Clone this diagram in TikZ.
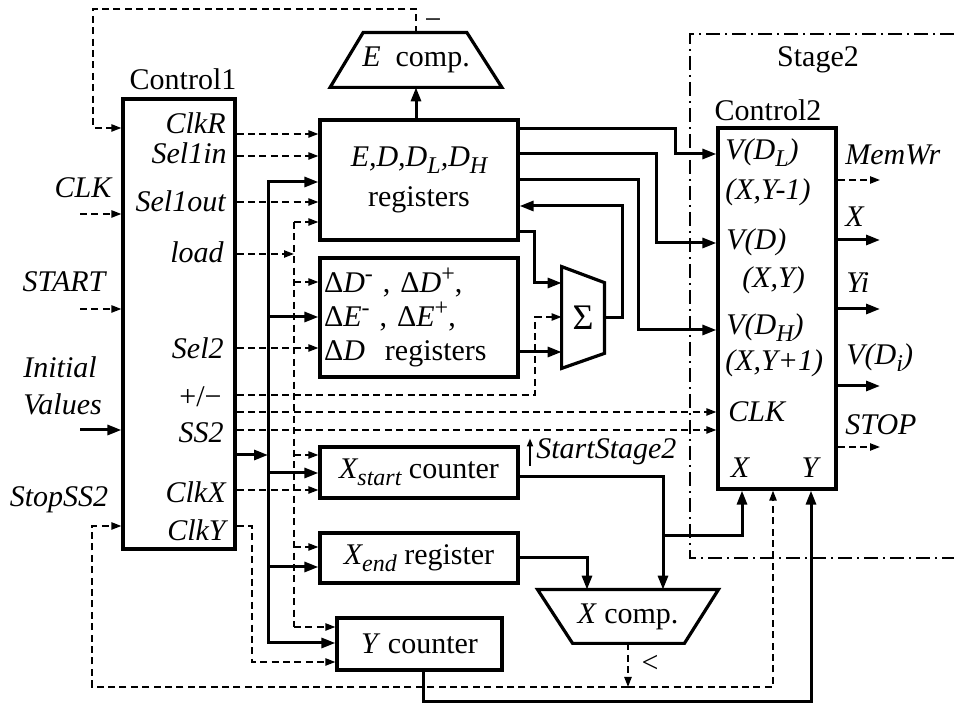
\documentclass[tikz,border=0pt]{standalone}
\usepackage{fontspec}
\setmainfont{Liberation Serif}
\usetikzlibrary{positioning, arrows.meta, calc}
\newcommand{\subtx}[1]{\raisebox{-0.5ex}{\fontsize{12}{12}\selectfont #1}}
\newcommand{\suptx}[1]{\raisebox{0.8ex}{\fontsize{12}{12}\selectfont #1}}
\tikzset{
  blk/.style={draw, line width=1.6pt, inner sep=0pt},
  shp/.style={line width=1.6pt},
  sig/.style={inner sep=0pt, font=\itshape},
  txt/.style={inner sep=0pt},
  bus/.style={line width=1.5pt, -{Triangle[length=7pt,width=5pt]}},
  ctl/.style={line width=0.9pt, dash pattern=on 3.5pt off 2.2pt,
              -{Triangle[length=5pt,width=3.6pt]}},
  ctlw/.style={line width=0.9pt, dash pattern=on 3.5pt off 2.2pt},
  zone/.style={line width=0.9pt, dash pattern=on 7pt off 2.5pt on 1pt off 2.5pt}
}

\begin{document}
\fontsize{15}{17}\selectfont
\begin{tikzpicture}[x=0.5pt, y=-0.5pt]
  \useasboundingbox (0,0) rectangle (954,704);

  % ----- Blocks -----
  \node[blk, minimum width=56pt, minimum height=225pt] (ctrlA) at (179,324) {};
  \node[txt] (ctrlAname) at (183,79) {Control1};

  \node[blk, minimum width=99pt, minimum height=60pt, align=center] (reg) at (419,180)
    {\textit{E,D,D\subtx{L},D\subtx{H}}\\[3pt]registers};

  \node[blk, minimum width=99pt, minimum height=59.5pt, text width=95pt, align=left] (dreg) at (419,317.5)
    {Δ\textit{D}\suptx{-}\ , Δ\textit{D}\suptx{+},\\Δ\textit{E}\suptx{-}\ , Δ\textit{E}\suptx{+},\\Δ\textit{D}\ \ registers};

  \node[blk, minimum width=99pt, minimum height=25.5pt] (xst) at (419,472.5)
    {\textit{X\subtx{start}} counter};
  \node[blk, minimum width=99pt, minimum height=25pt] (xend) at (419,558)
    {\textit{X\subtx{end}} register};
  \node[blk, minimum width=82.5pt, minimum height=26pt] (ycnt) at (419.5,644)
    {\textit{Y} counter};

  \node[blk, minimum width=59pt, minimum height=180.5pt] (ctrlB) at (777,308.5) {};
  \node[txt] (ctrlBname) at (768,110) {Control2};
  \node[txt] (stage) at (818,60) {Stage2};

  % ----- Trapezoid units -----
  \node[txt, minimum width=85.5pt, minimum height=27pt] (ecomp) at (416,60) {\textit{E}\ \ comp.};
  \draw[shp] ([xshift=16.5pt]ecomp.north west) -- ([xshift=-17.5pt]ecomp.north east)
    -- (ecomp.south east) -- (ecomp.south west) -- cycle;

  \node[txt, minimum width=90pt, minimum height=26.5pt] (xcomp) at (628,616.5) {\textit{X} comp.};
  \draw[shp] (xcomp.north west) -- (xcomp.north east) -- ([xshift=-17pt]xcomp.south east)
    -- ([xshift=17.5pt]xcomp.south west) -- cycle;

  \node[txt, minimum width=21pt, minimum height=50.5pt, font=\fontsize{18}{18}\selectfont] (sigma) at (583,317.5) {Σ};
  \draw[shp] (sigma.north west) -- ([yshift=-8pt]sigma.north east)
    -- ([yshift=7.5pt]sigma.south east) -- (sigma.south west) -- cycle;

  % ----- Control1 pin labels -----
  \node[sig, anchor=east] (pClkR) at (226,123) {ClkR};
  \node[sig, anchor=east] (pSelIin) at (227,153) {Sel1in};
  \node[sig, anchor=east] (pSelIout) at (226,201) {Sel1out};
  \node[sig, anchor=east] (pload) at (224,252) {load};
  \node[sig, anchor=east] (pSelII) at (224,348) {Sel2};
  \node[txt, anchor=east] (ppm) at (222,397) {+/−};
  \node[sig, anchor=east] (pSS) at (224,433) {SS2};
  \node[sig, anchor=east] (pClkX) at (226,492) {ClkX};
  \node[sig, anchor=east] (pClkY) at (226,530) {ClkY};

  % ----- Control2 pin labels -----
  \node[sig, anchor=west] (qvdl) at (725,153) {V(D\subtx{L})};
  \node[sig, anchor=west] (qxym) at (725,192) {(X,Y-1)};
  \node[sig, anchor=west] (qvd) at (726,242) {V(D)};
  \node[sig, anchor=west] (qxy) at (742,280) {(X,Y)};
  \node[sig, anchor=west] (qvdh) at (726,328) {V(D\subtx{H})};
  \node[sig, anchor=west] (qxyp) at (725,363) {(X,Y+1)};
  \node[sig, anchor=west] (qclk) at (728,412) {CLK};
  \node[sig] (qx) at (740,468) {X};
  \node[sig] (qy) at (810,468) {Y};

  % ----- Outside labels -----
  \node[sig] (lclk) at (83,188) {CLK};
  \node[sig] (lstart) at (64,282) {START};
  \node[sig, anchor=west, align=left] (linit) at (23,386) {Initial\\[1.5pt]Values};
  \node[sig] (lstop) at (59,500) {StopSS2};
  \node[sig, anchor=west] (omemwr) at (845,155) {MemWr};
  \node[sig, anchor=west] (ox) at (845,217) {X};
  \node[sig, anchor=west] (oyi) at (846,283) {Yi};
  \node[sig, anchor=west] (ovd) at (846,358) {V(D\subtx{i})};
  \node[sig, anchor=west] (ostop) at (845,425) {STOP};
  \node[sig, anchor=west] (lstst) at (536,452) {StartStage2};
  \node[txt] (minus) at (433,24) {−};
  \node[txt] (lless) at (650,664) {<};

  % ----- Free ends and junctions -----
  \coordinate (iclk) at (80,214);
  \coordinate (istart) at (80,309);
  \coordinate (iinit) at (80,430);
  \coordinate (fbk) at (93,9);
  \coordinate (ldtop) at (294,222);
  \coordinate (ldbot) at (294,627);
  \coordinate (bustop) at (268,182);
  \coordinate (busbot) at (268,643);
  \coordinate (emem) at (880,180);
  \coordinate (ex) at (880,240);
  \coordinate (eyi) at (880,309);
  \coordinate (evd) at (880,386);
  \coordinate (estop) at (880,447);

  % ----- Control1 inputs -----
  \draw[ctl] (ecomp.north) |- (fbk) -- (fbk |- 0,128) -- (ctrlA.west |- 0,128);
  \draw[ctl] (iclk) -- (ctrlA.west |- iclk);
  \draw[ctl] (istart) -- (ctrlA.west |- istart);
  \draw[bus] (iinit) -- (ctrlA.west |- iinit);

  % ----- Control1 outputs -----
  \draw[ctl] (ctrlA.east |- 0,134) -- (reg.west |- 0,134);
  \draw[ctl] (ctrlA.east |- 0,156) -- (reg.west |- 0,156);
  \draw[ctl] (ctrlA.east |- 0,202) -- (reg.west |- 0,202);
  \draw[ctl] (ctrlA.east |- 0,254) -- (ldtop |- 0,254);
  \draw[ctl] (ctrlA.east |- 0,348) -- (dreg.west |- 0,348);
  \draw[ctl] (ctrlA.east |- 0,395) -| (535,317) -- (sigma.west |- 0,317);
  \draw[ctl] (ctrlA.east |- 0,412) -- (ctrlB.west |- 0,412);
  \draw[ctl] (ctrlA.east |- 0,430) -- (ctrlB.west |- 0,430);
  \draw[bus] (ctrlA.east |- 0,455) -- (bustop |- 0,455);
  \draw[ctl] (ctrlA.east |- 0,490) -- (xst.west |- 0,490);
  \draw[ctl] (ctrlA.east |- 0,526) -| (252,662) -- (ycnt.west |- 0,662);

  % ----- load line -----
  \draw[ctlw] (ldtop) -- (ldbot);
  \draw[ctl] (ldtop) -- (reg.west |- ldtop);
  \draw[ctl] (ldtop |- 0,282) -- (dreg.west |- 0,282);
  \draw[ctl] (ldtop |- 0,455) -- (xst.west |- 0,455);
  \draw[ctl] (ldtop |- 0,547) -- (xend.west |- 0,547);
  \draw[ctl] (ldbot) -- (ycnt.west |- ldbot);

  % ----- Initial values bus -----
  \draw[bus] (busbot) -- (bustop) -- (reg.west |- bustop);
  \draw[bus] (bustop |- 0,317) -- (dreg.west |- 0,317);
  \draw[bus] (bustop |- 0,473) -- (xst.west |- 0,473);
  \draw[bus] (bustop |- 0,567) -- (xend.west |- 0,567);
  \draw[bus] (bustop) -- (busbot) -- (ycnt.west |- busbot);

  % ----- Registers and adder -----
  \draw[bus] (reg.north -| ecomp.south) -- (ecomp.south);
  \draw[bus] (reg.east |- 0,129) -| (675,154) -- (ctrlB.west |- 0,154);
  \draw[bus] (reg.east |- 0,154) -| (656,243) -- (ctrlB.west |- 0,243);
  \draw[bus] (reg.east |- 0,180) -| (638,330) -- (ctrlB.west |- 0,330);
  \draw[bus] (reg.east |- 0,232) -| (534,283) -- (sigma.west |- 0,283);
  \draw[bus] (dreg.east |- 0,352) -- (sigma.west |- 0,352);
  \draw[bus] (sigma.east) -| (622,206) -- (reg.east |- 0,206);

  % ----- Counters and X compare -----
  \draw[bus] (xst.east |- 0,477) -| (xcomp.north -| 663,0);
  \draw[bus] (663,536) -| (ctrlB.south -| 742,0);
  \draw[bus] (xend.east |- 0,558) -| (xcomp.north -| 587,0);
  \draw[ctl] (xcomp.south) -- (xcomp.south |- 0,687);
  \draw[ctl] (xcomp.south |- 0,687) -| (92,526) -- (ctrlA.west |- 0,526);
  \draw[ctl] (xcomp.south |- 0,687) -| (ctrlB.south -| 773,0);
  \draw[bus] (ycnt.south -| 423,0) -- (423,702) -| (ctrlB.south -| 811,0);
  \draw[line width=0.9pt, -{Triangle[length=4pt,width=3pt]}]
    ([xshift=-3pt]lstst.south west) -- ([xshift=-3pt]lstst.north west);

  % ----- Control2 outputs -----
  \draw[ctl] (ctrlB.east |- emem) -- (emem);
  \draw[bus] (ctrlB.east |- ex) -- (ex);
  \draw[bus] (ctrlB.east |- eyi) -- (eyi);
  \draw[bus] (ctrlB.east |- evd) -- (evd);
  \draw[ctl] (ctrlB.east |- estop) -- (estop);

  % ----- Stage2 region -----
  \draw[zone] (954,34) -| (690,558) -- (954,558);

\end{tikzpicture}
\end{document}
